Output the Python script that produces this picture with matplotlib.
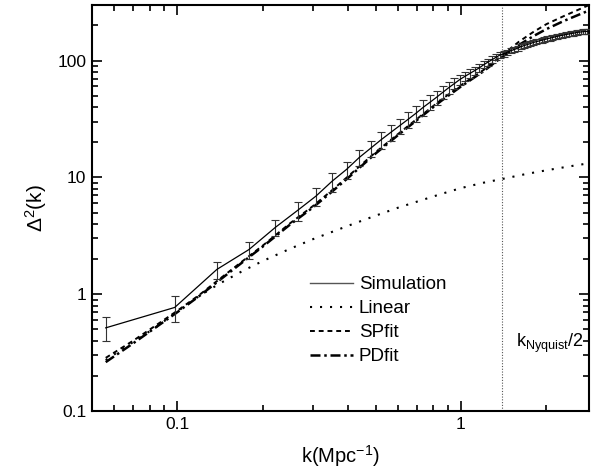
import matplotlib
matplotlib.use("Agg")
import matplotlib.pyplot as plt
from matplotlib.lines import Line2D

plt.rcParams['font.family'] = ['Liberation Sans', 'DejaVu Sans']
plt.rcParams['mathtext.fontset'] = 'custom'
plt.rcParams['mathtext.rm'] = 'Liberation Sans'
plt.rcParams['mathtext.it'] = 'Liberation Sans:italic'

# Simulation
k_sim = [0.056, 0.098, 0.138, 0.179, 0.222, 0.266, 0.308, 0.351, 0.395, 0.438,
         0.481, 0.523, 0.566, 0.608, 0.651, 0.693, 0.736, 0.778, 0.821, 0.863,
         0.906, 0.948, 0.991, 1.033, 1.076, 1.118, 1.161, 1.203, 1.246, 1.288,
         1.331, 1.373, 1.416, 1.458, 1.501, 1.543, 1.586, 1.628, 1.671, 1.713,
         1.756, 1.798, 1.841, 1.883, 1.926, 1.968, 2.011, 2.053, 2.096, 2.138,
         2.181, 2.223, 2.266, 2.308, 2.351, 2.393, 2.436, 2.478, 2.521, 2.563,
         2.606, 2.648, 2.691, 2.733, 2.776, 2.818]
d_sim = [0.515, 0.77, 1.63, 2.41, 3.74, 5.23, 6.9, 9.25, 11.7, 14.8,
         17.8, 21.0, 24.3, 27.7, 31.4, 35.3, 39.8, 44.0, 48.6, 53.5,
         58.7, 63.6, 68.9, 73.3, 77.7, 82.1, 86.7, 92.2, 97.2, 101.9,
         106.9, 111.8, 114.4, 118.1, 121.6, 124.5, 127.8, 131.8, 134.5, 137.2,
         139.8, 142.8, 145.1, 147.1, 149.2, 151.2, 153.5, 155.4, 157.3, 159.1,
         161.0, 162.8, 164.3, 165.8, 167.2, 168.6, 170.1, 171.4, 172.6, 173.9,
         175.1, 175.8, 176.6, 177.2, 177.8, 178.3]
e_sim = [0.12, 0.19, 0.27, 0.39, 0.60, 0.96, 1.25, 1.75, 1.93, 2.3,
         2.85, 3.36, 3.77, 4.16, 4.71, 5.30, 5.97, 6.38, 6.80, 6.96,
         7.04, 7.0, 6.89, 6.6, 6.6, 6.57, 6.5, 6.45, 6.6, 6.62,
         6.41, 6.37, 6.29, 6.26, 6.32, 6.2, 6.3, 6.5, 6.6, 6.7,
         6.8, 6.9, 7.0, 7.0, 7.1, 7.2, 7.3, 7.3, 7.4, 7.4,
         7.5, 7.5, 7.6, 7.6, 7.6, 7.7, 7.7, 7.7, 7.8, 7.8,
         7.8, 7.8, 7.9, 7.9, 7.9, 7.9]

# Linear
k_lin = [0.056, 0.07, 0.085, 0.1, 0.12, 0.14, 0.17, 0.2, 0.25, 0.3, 0.4, 0.5,
         0.6, 0.7, 0.85, 1.0, 1.2, 1.4, 1.7, 2.0, 2.4, 2.82]
d_lin = [0.273, 0.39, 0.53, 0.71, 0.97, 1.22, 1.58, 1.92, 2.45, 2.95, 3.85, 4.7,
         5.5, 6.2, 7.2, 8.1, 9.0, 9.7, 10.7, 11.5, 12.4, 13.2]

# Fits
k_fit = [0.056, 0.07, 0.085, 0.1, 0.12, 0.14, 0.17, 0.2, 0.25, 0.3, 0.35, 0.4,
         0.5, 0.6, 0.7, 0.85, 1.0, 1.2, 1.4, 1.6, 1.8, 2.0, 2.3, 2.82]
d_pd = [0.262, 0.38, 0.53, 0.70, 0.97, 1.30, 1.88, 2.55, 3.95, 5.5, 7.5, 9.9,
        16.0, 23.0, 31.0, 45.0, 60.0, 81.0, 108, 136, 162, 186, 218, 268]
d_sp = [0.285, 0.40, 0.55, 0.72, 0.99, 1.33, 1.92, 2.6, 4.05, 5.65, 7.7, 10.2,
        16.4, 23.5, 31.7, 46.0, 61.5, 83.0, 112, 145, 176, 205, 240, 298]

k_nyq_half = 1.4

fig = plt.figure(figsize=(5.93, 4.69), dpi=100)
ax = fig.add_axes([92/593, 1-411/469, 497/593, 406/469])
ax.set_xscale('log')
ax.set_yscale('log')

ax.errorbar(k_sim, d_sim, yerr=e_sim, fmt='none', ecolor='#333333',
            elinewidth=0.8, capsize=3, capthick=0.8, zorder=3)
ax.plot(k_sim, d_sim, color='black', lw=0.9, zorder=4)
ax.plot(k_lin, d_lin, color='black', lw=1.5, linestyle=(0, (1, 3.8)))
ax.plot(k_fit, d_sp, color='black', lw=1.4, linestyle=(0, (2.5, 2)))
ax.plot(k_fit, d_pd, color='black', lw=1.8, linestyle=(0, (4, 1.5, 1, 1.5)))

ax.axvline(k_nyq_half, color='#555555', lw=0.8, linestyle=(0, (1, 1.5)))
ax.text(1.56, 0.355, r'k$_{\mathrm{Nyquist}}$/2', fontsize=13, ha='left', va='baseline')

ax.set_xlim(0.0501, 2.825)
ax.set_ylim(0.1, 299)

ax.set_xticks([0.1, 1])
ax.set_xticklabels(['0.1', '1'])
ax.set_yticks([0.1, 1, 10, 100])
ax.set_yticklabels(['0.1', '1', '10', '100'])

ax.tick_params(which='both', direction='in', top=True, right=True, width=1.2)
ax.tick_params(which='major', length=7, labelsize=12.5, pad=4)
ax.tick_params(which='minor', length=4)
for s in ax.spines.values():
    s.set_linewidth(1.5)

ax.set_xlabel(r'k(Mpc$^{-1}$)', fontsize=14.5, labelpad=8)
ax.set_ylabel(r'$\Delta^{2}$(k)', fontsize=15, labelpad=6)

handles = [
    Line2D([], [], color='#555555', lw=1.0),
    Line2D([], [], color='black', lw=1.5, linestyle=(0, (1, 3.8))),
    Line2D([], [], color='black', lw=1.4, linestyle=(0, (2.5, 2))),
    Line2D([], [], color='black', lw=1.8, linestyle=(0, (4, 1.5, 1, 1.5))),
]
ax.legend(handles, ['Simulation', 'Linear', 'SPfit', 'PDfit'], loc='upper left',
          bbox_to_anchor=((310-92)/497, (411-276)/406), frameon=False,
          fontsize=13.5, handlelength=2.3, handletextpad=0.3, labelspacing=0.37,
          borderpad=0, borderaxespad=0)

fig.savefig('out.png', dpi=100)
